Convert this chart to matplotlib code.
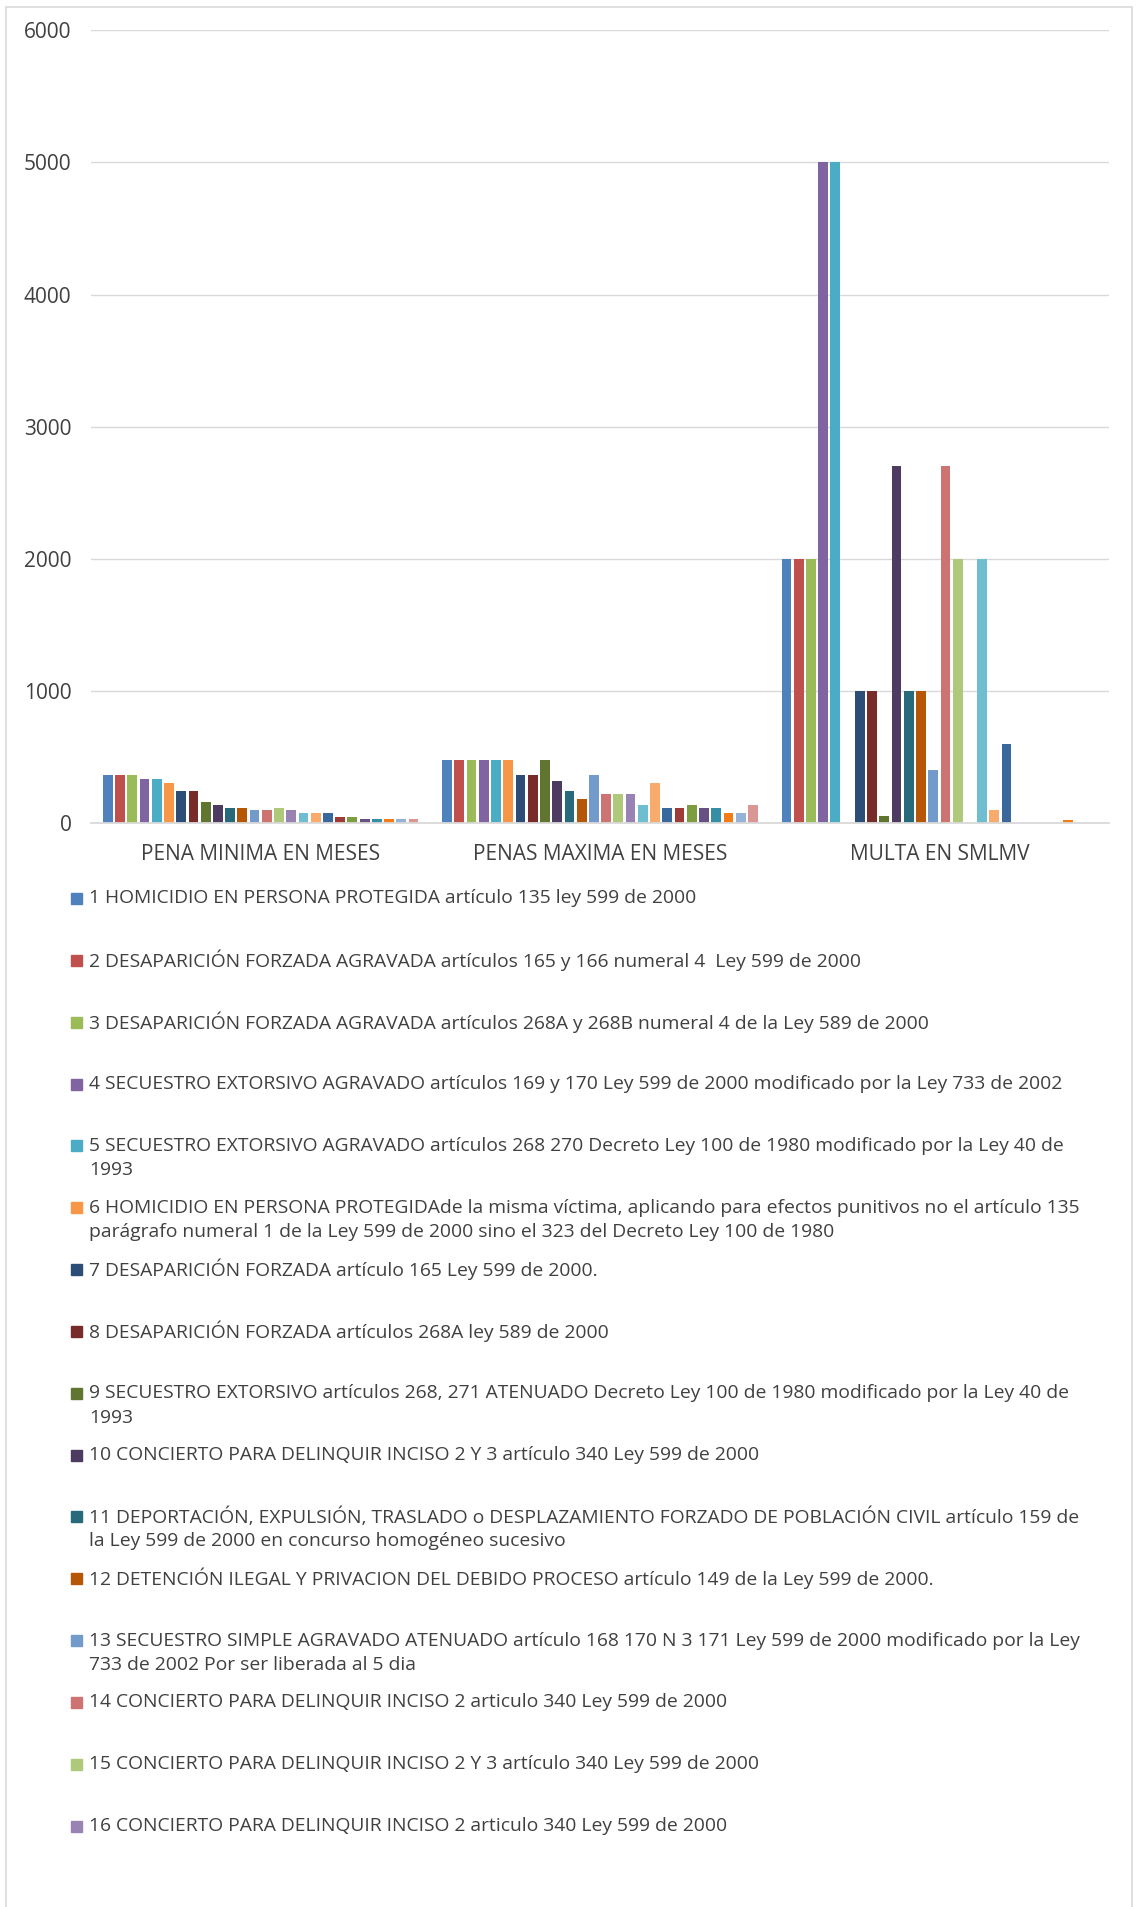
import numpy as np
import matplotlib
matplotlib.use("Agg")
from matplotlib import pyplot as plt
from matplotlib.patches import Rectangle

plt.rcParams['font.family'] = ['Open Sans', 'DejaVu Sans']

# categories on the x axis
categories = ['PENA MINIMA EN MESES', 'PENAS MAXIMA EN MESES', 'MULTA EN SMLMV']

# one value per series (26 series) for each category
pena_minima = [360, 360, 360, 330, 330, 300, 240, 240, 156, 138, 112, 112, 100,
               100, 112, 100, 72, 72, 72, 46, 46, 30, 30, 30, 30, 30]
pena_maxima = [480, 480, 480, 480, 480, 480, 360, 360, 480, 316, 240, 180, 360,
               220, 220, 220, 138, 300, 112, 112, 138, 112, 112, 72, 72, 138]
multa = [2000, 2000, 2000, 5000, 5000, 0, 1000, 1000, 50, 2700, 1000, 1000, 400,
         2700, 2000, 0, 2000, 100, 600, 0, 0, 0, 0, 20, 0, 0]

# excel 2007 palette, cycled
colors = ['#4F81BD', '#C0504D', '#9BBB59', '#8064A2', '#4BACC6', '#F79646',
          '#2C4D75', '#772C2A', '#5F7530', '#4D3B62', '#276A7C', '#B65708',
          '#729ACA', '#CD7371', '#AFC97A', '#9983B5', '#6FBDD1', '#F9AB6B',
          '#3A679C', '#9E3B38', '#7E9D40', '#664F83', '#358EA6', '#F47C17',
          '#95B3D7', '#D99694']

# legend entries (only the first 16 are visible in the chart); lines as wrapped
legend_labels = [
    ["1 HOMICIDIO EN PERSONA PROTEGIDA artículo 135 ley 599 de 2000"],
    ["2 DESAPARICIÓN FORZADA AGRAVADA artículos 165 y 166 numeral 4  Ley 599 de 2000"],
    ["3 DESAPARICIÓN FORZADA AGRAVADA artículos 268A y 268B numeral 4 de la Ley 589 de 2000"],
    ["4 SECUESTRO EXTORSIVO AGRAVADO artículos 169 y 170 Ley 599 de 2000 modificado por la Ley 733 de 2002"],
    ["5 SECUESTRO EXTORSIVO AGRAVADO artículos 268 270 Decreto Ley 100 de 1980 modificado por la Ley 40 de",
     "1993"],
    ["6 HOMICIDIO EN PERSONA PROTEGIDAde la misma víctima, aplicando para efectos punitivos no el artículo 135",
     "parágrafo numeral 1 de la Ley 599 de 2000 sino el 323 del Decreto Ley 100 de 1980"],
    ["7 DESAPARICIÓN FORZADA artículo 165 Ley 599 de 2000."],
    ["8 DESAPARICIÓN FORZADA artículos 268A ley 589 de 2000"],
    ["9 SECUESTRO EXTORSIVO artículos 268, 271 ATENUADO Decreto Ley 100 de 1980 modificado por la Ley 40 de",
     "1993"],
    ["10 CONCIERTO PARA DELINQUIR INCISO 2 Y 3 artículo 340 Ley 599 de 2000"],
    ["11 DEPORTACIÓN, EXPULSIÓN, TRASLADO o DESPLAZAMIENTO FORZADO DE POBLACIÓN CIVIL artículo 159 de",
     "la Ley 599 de 2000 en concurso homogéneo sucesivo"],
    ["12 DETENCIÓN ILEGAL Y PRIVACION DEL DEBIDO PROCESO artículo 149 de la Ley 599 de 2000."],
    ["13 SECUESTRO SIMPLE AGRAVADO ATENUADO artículo 168 170 N 3 171 Ley 599 de 2000 modificado por la Ley",
     "733 de 2002 Por ser liberada al 5 dia"],
    ["14 CONCIERTO PARA DELINQUIR INCISO 2 articulo 340 Ley 599 de 2000"],
    ["15 CONCIERTO PARA DELINQUIR INCISO 2 Y 3 artículo 340 Ley 599 de 2000"],
    ["16 CONCIERTO PARA DELINQUIR INCISO 2 articulo 340 Ley 599 de 2000"],
]

W, H = 1138, 1907
fig = plt.figure(figsize=(W / 100, H / 100), dpi=100)

# chart border
fig.patches.append(Rectangle((6 / W, -0.01), 1126 / W, 1 - 7 / H + 0.01,
                             transform=fig.transFigure, fill=False,
                             edgecolor='#D9D9D9', linewidth=1.2))

ax = fig.add_axes([91 / W, 1 - 823 / H, 1018 / W, (823 - 30.4) / H])

values = np.array([pena_minima, pena_maxima, multa])  # (3, 26)
n_series = values.shape[1]
group = 0.937
slot = group / n_series
x = np.arange(len(categories))
for i in range(n_series):
    ax.bar(x - group / 2 + slot * (i + 0.5), values[:, i], width=slot * 0.8,
           color=colors[i], zorder=3)

ax.set_xlim(-0.5, len(categories) - 0.5)
ax.set_ylim(0, 6000)
ax.set_yticks(range(0, 6001, 1000))
ax.yaxis.grid(True, color='#D9D9D9', linewidth=1)
ax.set_axisbelow(True)
for s in ['top', 'right', 'left']:
    ax.spines[s].set_visible(False)
ax.spines['bottom'].set_color('#D9D9D9')
ax.spines['bottom'].set_linewidth(1.3)
ax.spines['bottom'].set_zorder(4)
ax.tick_params(axis='y', length=0, pad=14, labelsize=15, labelcolor='#404040')
ax.tick_params(axis='x', length=0, pad=15, labelsize=15, labelcolor='#404040')
ax.set_xticks(x)
ax.set_xticklabels(categories)

# legend drawn as a fixed-pitch list, like excel does
y0 = 898.5
pitch = 61.84
line_h = 24.3
for i, lines in enumerate(legend_labels):
    yc = y0 + i * pitch
    fig.patches.append(Rectangle((71 / W, 1 - (yc + 5.5) / H), 11 / W, 11 / H,
                                 transform=fig.transFigure, color=colors[i]))
    for k, line in enumerate(lines):
        fig.text(89 / W, 1 - (yc + k * line_h) / H, line, ha='left', va='center',
                 fontsize=13.9, color='#404040')

fig.savefig('out.png', dpi=100)
